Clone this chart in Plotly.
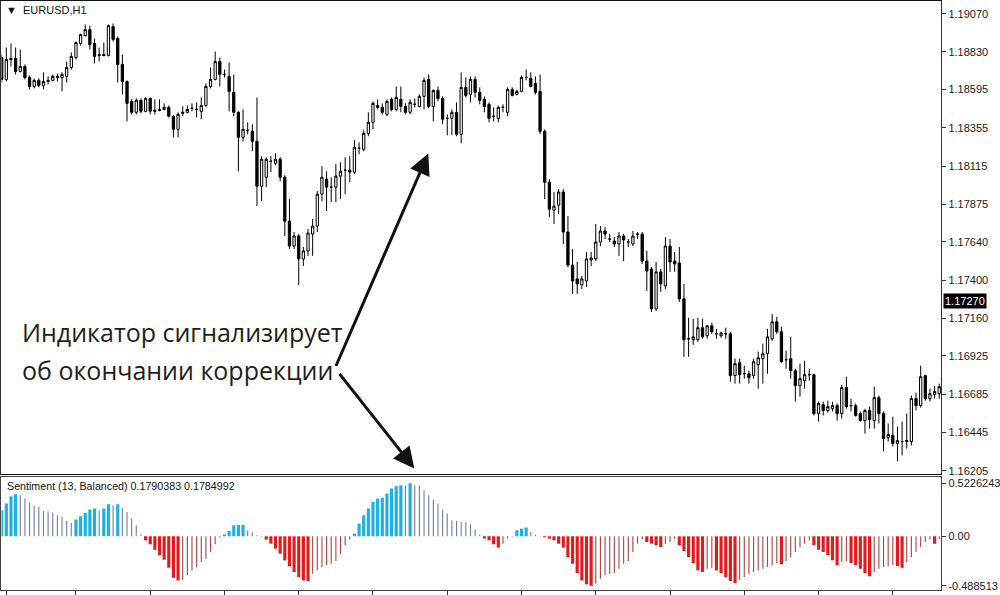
import plotly.graph_objects as go

# ---------------- price data (EURUSD H1) ----------------
open_ = [
    1.18795, 1.18658, 1.18789, 1.18789, 1.18708, 1.18739, 1.18670, 1.18614, 1.18652, 1.18620,
    1.18652, 1.18652, 1.18677, 1.18670, 1.18677, 1.18733, 1.18795, 1.18883, 1.18933, 1.18970,
    1.18883, 1.18814, 1.18814, 1.18808, 1.18989, 1.18914, 1.18752, 1.18645, 1.18520, 1.18452,
    1.18527, 1.18458, 1.18539, 1.18458, 1.18470, 1.18470, 1.18483, 1.18427, 1.18345, 1.18445,
    1.18452, 1.18477, 1.18470, 1.18458, 1.18495, 1.18614, 1.18658, 1.18770, 1.18689, 1.18677,
    1.18577, 1.18452, 1.18295, 1.18339, 1.18333, 1.18270, 1.17989, 1.18045, 1.18145, 1.18133,
    1.18158, 1.18045, 1.17770, 1.17614, 1.17677, 1.17533, 1.17583, 1.17689, 1.17739, 1.17939,
    1.18033, 1.17983, 1.17983, 1.18052, 1.18089, 1.18089, 1.18077, 1.18227, 1.18220, 1.18320,
    1.18389, 1.18495, 1.18483, 1.18439, 1.18533, 1.18470, 1.18533, 1.18489, 1.18452, 1.18502,
    1.18489, 1.18552, 1.18658, 1.18489, 1.18589, 1.18539, 1.18414, 1.18414, 1.18452, 1.18314,
    1.18608, 1.18564, 1.18658, 1.18577, 1.18533, 1.18502, 1.18427, 1.18414, 1.18483, 1.18452,
    1.18595, 1.18564, 1.18583, 1.18670, 1.18664, 1.18633, 1.18583, 1.18333, 1.18014, 1.17839,
    1.17870, 1.17952, 1.17702, 1.17495, 1.17408, 1.17370, 1.17395, 1.17527, 1.17533, 1.17639,
    1.17708, 1.17658, 1.17645, 1.17627, 1.17677, 1.17639, 1.17627, 1.17689, 1.17689, 1.17520,
    1.17470, 1.17220, 1.17452, 1.17364, 1.17614, 1.17520, 1.17508, 1.17283, 1.17033, 1.17027,
    1.17027, 1.17102, 1.17052, 1.17114, 1.17064, 1.17052, 1.17064, 1.17064, 1.16802, 1.16883,
    1.16814, 1.16814, 1.16802, 1.16870, 1.16908, 1.16939, 1.17033, 1.17139, 1.17077, 1.16902,
    1.16908, 1.16833, 1.16739, 1.16770, 1.16808, 1.16808, 1.16564, 1.16620, 1.16583, 1.16595,
    1.16614, 1.16564, 1.16727, 1.16614, 1.16614, 1.16564, 1.16520, 1.16583, 1.16520, 1.16664,
    1.16564, 1.16414, 1.16427, 1.16377, 1.16389, 1.16389, 1.16389, 1.16658, 1.16614, 1.16802,
    1.16658, 1.16683, 1.16689,
]
high = [
    1.18814, 1.18858, 1.18883, 1.18858, 1.18845, 1.18752, 1.18683, 1.18664, 1.18664, 1.18702,
    1.18677, 1.18689, 1.18695, 1.18702, 1.18770, 1.18827, 1.18895, 1.18945, 1.19002, 1.18995,
    1.18914, 1.18858, 1.18889, 1.19002, 1.19008, 1.18927, 1.18814, 1.18652, 1.18533, 1.18539,
    1.18539, 1.18545, 1.18545, 1.18533, 1.18533, 1.18508, 1.18495, 1.18433, 1.18452, 1.18489,
    1.18495, 1.18508, 1.18514, 1.18545, 1.18633, 1.18733, 1.18833, 1.18795, 1.18720, 1.18764,
    1.18689, 1.18458, 1.18470, 1.18389, 1.18377, 1.18545, 1.18177, 1.18170, 1.18177, 1.18195,
    1.18170, 1.18058, 1.17908, 1.17702, 1.17689, 1.17608, 1.17720, 1.17783, 1.17958, 1.18114,
    1.18083, 1.18045, 1.18127, 1.18139, 1.18170, 1.18177, 1.18277, 1.18264, 1.18339, 1.18452,
    1.18520, 1.18533, 1.18508, 1.18533, 1.18545, 1.18614, 1.18614, 1.18508, 1.18533, 1.18539,
    1.18564, 1.18670, 1.18689, 1.18595, 1.18614, 1.18552, 1.18439, 1.18470, 1.18514, 1.18702,
    1.18670, 1.18677, 1.18677, 1.18608, 1.18552, 1.18514, 1.18483, 1.18495, 1.18502, 1.18608,
    1.18608, 1.18595, 1.18683, 1.18720, 1.18702, 1.18677, 1.18689, 1.18345, 1.18033, 1.17952,
    1.17970, 1.17970, 1.17802, 1.17595, 1.17514, 1.17427, 1.17577, 1.17577, 1.17752, 1.17739,
    1.17733, 1.17689, 1.17670, 1.17702, 1.17689, 1.17658, 1.17708, 1.17702, 1.17702, 1.17583,
    1.17483, 1.17514, 1.17470, 1.17670, 1.17658, 1.17577, 1.17608, 1.17377, 1.17164, 1.17158,
    1.17164, 1.17158, 1.17120, 1.17133, 1.17095, 1.17077, 1.17102, 1.17077, 1.16908, 1.16908,
    1.16864, 1.16833, 1.16908, 1.16952, 1.17002, 1.17095, 1.17189, 1.17170, 1.17108, 1.16958,
    1.17045, 1.16845, 1.16877, 1.16895, 1.16845, 1.16814, 1.16639, 1.16639, 1.16645, 1.16639,
    1.16627, 1.16745, 1.16795, 1.16658, 1.16627, 1.16577, 1.16595, 1.16608, 1.16733, 1.16677,
    1.16577, 1.16502, 1.16545, 1.16483, 1.16514, 1.16564, 1.16677, 1.16695, 1.16864, 1.16808,
    1.16720, 1.16739, 1.16752,
]
low = [
    1.18639, 1.18645, 1.18739, 1.18689, 1.18702, 1.18658, 1.18595, 1.18602, 1.18608, 1.18595,
    1.18627, 1.18645, 1.18645, 1.18583, 1.18639, 1.18720, 1.18783, 1.18870, 1.18927, 1.18845,
    1.18758, 1.18770, 1.18802, 1.18802, 1.18895, 1.18639, 1.18564, 1.18395, 1.18439, 1.18439,
    1.18445, 1.18452, 1.18439, 1.18439, 1.18458, 1.18464, 1.18420, 1.18295, 1.18295, 1.18427,
    1.18445, 1.18458, 1.18420, 1.18408, 1.18483, 1.18602, 1.18652, 1.18614, 1.18670, 1.18458,
    1.18427, 1.18083, 1.18270, 1.18314, 1.18208, 1.17864, 1.17895, 1.17983, 1.18077, 1.18120,
    1.18020, 1.17677, 1.17595, 1.17595, 1.17370, 1.17489, 1.17552, 1.17552, 1.17702, 1.17895,
    1.17833, 1.17889, 1.17889, 1.17908, 1.17939, 1.18014, 1.18064, 1.18189, 1.18208, 1.18302,
    1.18345, 1.18470, 1.18439, 1.18427, 1.18458, 1.18458, 1.18452, 1.18439, 1.18439, 1.18483,
    1.18483, 1.18470, 1.18477, 1.18395, 1.18520, 1.18377, 1.18308, 1.18308, 1.18302, 1.18258,
    1.18545, 1.18514, 1.18545, 1.18502, 1.18452, 1.18389, 1.18395, 1.18389, 1.18452, 1.18427,
    1.18552, 1.18558, 1.18577, 1.18652, 1.18608, 1.18564, 1.18314, 1.17908, 1.17795, 1.17752,
    1.17814, 1.17627, 1.17483, 1.17314, 1.17314, 1.17345, 1.17358, 1.17489, 1.17520, 1.17614,
    1.17658, 1.17639, 1.17608, 1.17552, 1.17520, 1.17608, 1.17614, 1.17658, 1.17502, 1.17333,
    1.17202, 1.17208, 1.17327, 1.17345, 1.17452, 1.17452, 1.17264, 1.16920, 1.16920, 1.16995,
    1.17014, 1.17033, 1.17033, 1.17064, 1.17033, 1.17039, 1.17033, 1.16764, 1.16752, 1.16752,
    1.16783, 1.16752, 1.16783, 1.16720, 1.16752, 1.16814, 1.17020, 1.17064, 1.16883, 1.16845,
    1.16783, 1.16639, 1.16670, 1.16720, 1.16770, 1.16552, 1.16514, 1.16552, 1.16570, 1.16577,
    1.16520, 1.16533, 1.16595, 1.16577, 1.16545, 1.16514, 1.16439, 1.16470, 1.16470, 1.16502,
    1.16327, 1.16389, 1.16358, 1.16264, 1.16302, 1.16345, 1.16364, 1.16583, 1.16602, 1.16645,
    1.16639, 1.16658, 1.16658,
]
close = [
    1.18658, 1.18783, 1.18783, 1.18708, 1.18739, 1.18670, 1.18614, 1.18652, 1.18620, 1.18645,
    1.18645, 1.18677, 1.18670, 1.18689, 1.18733, 1.18802, 1.18889, 1.18939, 1.18970, 1.18877,
    1.18802, 1.18808, 1.18808, 1.18995, 1.18908, 1.18752, 1.18645, 1.18508, 1.18452, 1.18527,
    1.18458, 1.18539, 1.18458, 1.18464, 1.18464, 1.18483, 1.18427, 1.18345, 1.18439, 1.18452,
    1.18470, 1.18477, 1.18470, 1.18495, 1.18614, 1.18658, 1.18770, 1.18689, 1.18689, 1.18583,
    1.18452, 1.18295, 1.18345, 1.18339, 1.18270, 1.17989, 1.18158, 1.18158, 1.18145, 1.18158,
    1.18045, 1.17770, 1.17614, 1.17677, 1.17533, 1.17583, 1.17695, 1.17739, 1.17939, 1.18045,
    1.17983, 1.17983, 1.18052, 1.18083, 1.18089, 1.18077, 1.18233, 1.18227, 1.18320, 1.18389,
    1.18508, 1.18483, 1.18452, 1.18520, 1.18470, 1.18545, 1.18489, 1.18452, 1.18514, 1.18502,
    1.18552, 1.18652, 1.18489, 1.18589, 1.18539, 1.18408, 1.18414, 1.18452, 1.18314, 1.18608,
    1.18558, 1.18658, 1.18577, 1.18527, 1.18489, 1.18414, 1.18427, 1.18483, 1.18483, 1.18595,
    1.18558, 1.18583, 1.18670, 1.18670, 1.18614, 1.18577, 1.18333, 1.18014, 1.17845, 1.17864,
    1.17952, 1.17702, 1.17495, 1.17395, 1.17377, 1.17408, 1.17533, 1.17539, 1.17639, 1.17708,
    1.17689, 1.17658, 1.17627, 1.17677, 1.17652, 1.17639, 1.17677, 1.17689, 1.17520, 1.17458,
    1.17220, 1.17452, 1.17377, 1.17614, 1.17514, 1.17502, 1.17283, 1.17027, 1.17033, 1.17045,
    1.17102, 1.17045, 1.17114, 1.17077, 1.17064, 1.17070, 1.17064, 1.16802, 1.16877, 1.16808,
    1.16814, 1.16789, 1.16889, 1.16914, 1.16939, 1.17045, 1.17139, 1.17077, 1.16889, 1.16902,
    1.16833, 1.16739, 1.16783, 1.16808, 1.16808, 1.16564, 1.16627, 1.16583, 1.16608, 1.16614,
    1.16564, 1.16727, 1.16608, 1.16614, 1.16552, 1.16520, 1.16583, 1.16527, 1.16664, 1.16564,
    1.16408, 1.16433, 1.16377, 1.16395, 1.16389, 1.16395, 1.16658, 1.16614, 1.16795, 1.16658,
    1.16689, 1.16702, 1.16733,
]

# ---------------- Sentiment (13, Balanced) indicator ----------------
sentiment = [
    0.257, 0.323, 0.396, 0.416, 0.406, 0.373, 0.330, 0.300, 0.290, 0.248,
    0.245, 0.235, 0.208, 0.191, 0.152, 0.132, 0.165, 0.198, 0.231, 0.264,
    0.274, 0.257, 0.274, 0.317, 0.307, 0.317, 0.281, 0.241, 0.175, 0.109,
    0.020, -0.040, -0.079, -0.132, -0.188, -0.231, -0.310, -0.409, -0.436, -0.429,
    -0.386, -0.337, -0.304, -0.254, -0.221, -0.155, -0.079, -0.013, 0.017, 0.053,
    0.109, 0.111, 0.113, 0.059, 0.043, 0.010, -0.005, -0.033, -0.073, -0.122,
    -0.172, -0.238, -0.297, -0.353, -0.403, -0.436, -0.442, -0.370, -0.337, -0.304,
    -0.287, -0.271, -0.244, -0.178, -0.089, -0.033, 0.026, 0.125, 0.208, 0.274,
    0.340, 0.373, 0.380, 0.422, 0.472, 0.495, 0.505, 0.498, 0.523, 0.505,
    0.500, 0.455, 0.406, 0.363, 0.323, 0.264, 0.224, 0.158, 0.149, 0.142,
    0.139, 0.119, 0.066, 0.017, -0.023, -0.040, -0.079, -0.112, -0.073, -0.023,
    -0.005, 0.059, 0.076, 0.086, 0.043, 0.017, 0.004, -0.010, -0.023, -0.040,
    -0.073, -0.112, -0.205, -0.271, -0.363, -0.436, -0.475, -0.489, -0.469, -0.419,
    -0.386, -0.370, -0.363, -0.320, -0.271, -0.244, -0.155, -0.073, -0.033, -0.056,
    -0.073, -0.089, -0.106, -0.073, -0.056, -0.026, -0.089, -0.145, -0.205, -0.264,
    -0.337, -0.353, -0.320, -0.317, -0.337, -0.363, -0.403, -0.442, -0.462, -0.429,
    -0.403, -0.376, -0.353, -0.337, -0.320, -0.304, -0.287, -0.264, -0.277, -0.244,
    -0.205, -0.155, -0.112, -0.073, -0.040, -0.089, -0.132, -0.155, -0.188, -0.238,
    -0.287, -0.254, -0.244, -0.264, -0.287, -0.320, -0.363, -0.396, -0.353, -0.320,
    -0.304, -0.297, -0.287, -0.294, -0.310, -0.254, -0.205, -0.155, -0.106, -0.056,
    -0.033, -0.073, -0.026,
]
# U = rising positive (thick blue), u = falling positive (thin),
# D = rising negative (thick red),  d = falling negative (thin)
sentiment_kind = list(
    "UUUU" "uuuuuuuuuuuu" "UUUUU" "u" "UU" "u" "U" "uuuuu" "DDDDDDDD" "ddddddddd"
    "UUUUU" "uuu" "d" "DDDDDDDDDD" "ddddddddd" "UUUUUUUUUUU" "u" "U" "uuuuuuuuuuuuuuu"
    "DDDD" "ddd" "UUU" "uuu" "DDDDDDDDDDD" "ddddddddddd" "DDDD" "ddd" "DDDDDD" "dd"
    "DDDDD" "ddddddddd" "D" "dddddd" "DDDDDD" "dd" "DDDDD" "ddddd" "DD" "dddddd" "D" "d"
)

price_ticks = [1.19070, 1.18830, 1.18595, 1.18355, 1.18115, 1.17875, 1.17640,
               1.17400, 1.17160, 1.16925, 1.16685, 1.16445, 1.16205]
ind_ticks = [0.5226243, 0.0, -0.488513]
ind_tick_text = ["0.5226243", "0.00", "-0.488513"]
time_ticks = [1, 16, 32, 48, 64, 80, 96, 112, 128, 144, 160, 176, 192]
last_price = 1.17270

n = len(close)
assert len(open_) == len(high) == len(low) == n == len(sentiment) == len(sentiment_kind)
bars = list(range(n))

fig = go.Figure()
fig.add_trace(go.Candlestick(
    x=bars, open=open_, high=high, low=low, close=close,
    increasing=dict(line=dict(color="#000000", width=1), fillcolor="#ffffff"),
    decreasing=dict(line=dict(color="#000000", width=1), fillcolor="#000000"),
    whiskerwidth=0, xaxis="x", yaxis="y", hoverinfo="skip", showlegend=False,
))

styles = {
    "U": ("#1cb0e6", 0.68),
    "u": ("#6f80a6", 0.24),
    "D": ("#e11a1a", 0.68),
    "d": ("#a84646", 0.24),
}
for key, (col, w) in styles.items():
    xs = [i for i in bars if sentiment_kind[i] == key]
    ys = [sentiment[i] for i in xs]
    fig.add_trace(go.Bar(
        x=xs, y=ys, width=w, marker=dict(color=col, line=dict(width=0)),
        xaxis="x2", yaxis="y2", showlegend=False, hoverinfo="skip",
    ))

tickfont = dict(family="Liberation Sans, Arial, sans-serif", size=11, color="#1a1a1a")
xrange_ = [-0.043, 202.43]

fig.update_layout(
    width=1000, height=595,
    margin=dict(l=0, r=0, t=0, b=0),
    paper_bgcolor="#ffffff", plot_bgcolor="#ffffff",
    barmode="overlay", showlegend=False,
    xaxis=dict(domain=[0.0015, 0.945], range=xrange_, anchor="y",
               showticklabels=False, ticks="", showgrid=False, zeroline=False,
               showline=True, mirror=True, linecolor="#111111", linewidth=1,
               rangeslider=dict(visible=False), fixedrange=True),
    yaxis=dict(domain=[0.2, 0.999], range=[1.16183, 1.19152], anchor="x", side="right",
               tickvals=price_ticks, ticktext=[f"{v:.5f}" for v in price_ticks],
               ticks="outside", ticklen=4, tickcolor="#333333", tickfont=tickfont,
               showgrid=False, zeroline=False, showline=True, mirror=True,
               linecolor="#333333", linewidth=1),
    xaxis2=dict(domain=[0.0015, 0.945], range=xrange_, anchor="y2",
                tickvals=time_ticks, ticktext=[""] * len(time_ticks),
                ticks="outside", ticklen=5, tickcolor="#333333",
                showgrid=False, zeroline=False, showline=True, mirror=True,
                linecolor="#444444", linewidth=1),
    yaxis2=dict(domain=[0.005, 0.195], range=[-0.531, 0.582], anchor="x2", side="right",
                tickvals=ind_ticks, ticktext=ind_tick_text,
                ticks="outside", ticklen=4, tickcolor="#333333", tickfont=tickfont,
                showgrid=False, zeroline=False, showline=True, mirror=True,
                linecolor="#444444", linewidth=1),
)

annotations = [
    dict(text="▼  EURUSD,H1", xref="paper", yref="paper", x=0.004, y=1 - 10 / 595,
         xanchor="left", yanchor="middle", showarrow=False,
         font=dict(family="Liberation Sans, Arial, sans-serif", size=11, color="#111111")),
    dict(text="Sentiment (13, Balanced) 0.1790383 0.1784992", xref="paper", yref="paper",
         x=0.005, y=1 - 488 / 595, xanchor="left", yanchor="middle", showarrow=False,
         font=dict(family="Liberation Sans, Arial, sans-serif", size=10.7, color="#111111")),
    dict(text="Индикатор сигнализирует", xref="paper", yref="paper",
         x=0.020, y=1 - 333 / 595, xanchor="left", yanchor="middle", showarrow=False,
         font=dict(family="Open Sans, Noto Sans, sans-serif", size=25, color="#1e1e1e")),
    dict(text="об окончании коррекции", xref="paper", yref="paper",
         x=0.020, y=1 - 371 / 595, xanchor="left", yanchor="middle", showarrow=False,
         font=dict(family="Open Sans, Noto Sans, sans-serif", size=25, color="#1e1e1e")),
    dict(text="", xref="paper", yref="paper", x=0.430, y=1 - 154 / 595,
         ax=-93, ay=214, axref="pixel", ayref="pixel", showarrow=True,
         arrowhead=2, arrowsize=1.4, arrowwidth=3, arrowcolor="#111111"),
    dict(text="", xref="paper", yref="paper", x=0.416, y=1 - 470 / 595,
         ax=-76, ay=-96, axref="pixel", ayref="pixel", showarrow=True,
         arrowhead=2, arrowsize=1.4, arrowwidth=3, arrowcolor="#111111"),
    dict(text="1.17270", xref="paper", yref="y", x=0.947, y=last_price,
         xanchor="left", yanchor="middle", showarrow=False, bgcolor="#000000",
         borderpad=1, font=dict(family="Liberation Sans, Arial, sans-serif", size=11, color="#ffffff")),
]
fig.update_layout(annotations=annotations)

fig.write_html(
    "out.html",
    config={"displayModeBar": False, "staticPlot": True},
    post_script="document.body.style.margin='0';document.body.style.padding='0';"
                "document.body.style.overflow='hidden';",
)
